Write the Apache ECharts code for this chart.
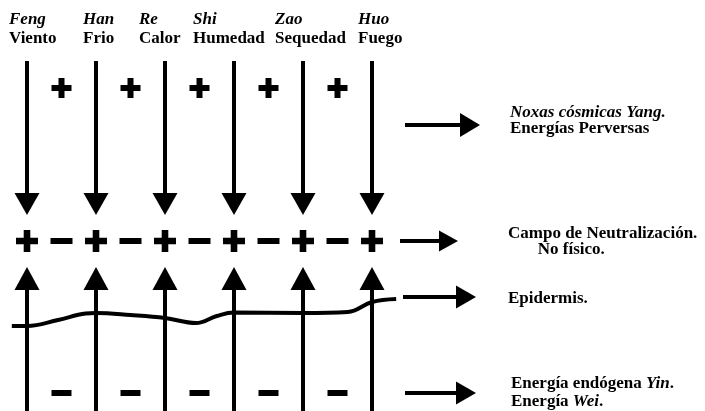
<!DOCTYPE html>
<html><head><meta charset="utf-8">
<script src="https://cdn.jsdelivr.net/npm/echarts@6/dist/echarts.min.js"></script>
<style>html,body{margin:0;padding:0;background:#fff}#c{width:705px;height:411px}</style>
</head><body><div id="c"></div>
<script>
// ---- data ----
const pinyin = ['Feng', 'Han', 'Re', 'Shi', 'Zao', 'Huo'];
const spanish = ['Viento', 'Frio', 'Calor', 'Humedad', 'Sequedad', 'Fuego'];
const topSigns = ['+', '+', '+', '+', '+'];                 // between columns, above
const fieldSigns = ['+', '−', '+', '−', '+', '−', '+', '−', '+', '−', '+']; // neutralization row
const bottomSigns = ['−', '−', '−', '−', '−'];              // between columns, below
// epidermis curve: [column position, level]
const epidermis = [[-0.22, 326], [0, 326], [0.45, 320], [0.85, 313.5], [1, 313], [1.5, 315], [2, 318], [2.45, 323], [2.75, 316], [3, 312.5], [4, 313], [4.65, 312], [5, 302], [5.35, 299]];
const notes = [
  ['{i|Noxas cósmicas Yang.}', '{b|Energías Perversas}'],
  ['{b|Campo de Neutralización.}', '{b|       No físico.}'],
  ['{b|Epidermis.}'],
  ['{b|Energía endógena }{i|Yin}{b|.}', '{b|Energía }{i|Wei}{b|.}']
];

// ---- layout ----
const X0 = 27, STEP = 69;
const toCol = px => (px - X0) / STEP;
const FONT = 'Liberation Serif';
const headerLeft = [9, 83, 139, 193, 275, 358];
const plusPath = 'path://M7,0H13V7H20V13H13V20H7V13H0V7H7Z';
const ink = {color: '#000', opacity: 1};

const cols = pinyin.map((_, i) => i);
const shafts = [];
cols.forEach(i => {
  shafts.push({coords: [[i, 61], [i, 196]]});
  shafts.push({coords: [[i, 282], [i, 411]]});
});
const sideArrows = [
  {y: 125, x1: 405, x2: 461, head: [24, 20]},
  {y: 241, x1: 400, x2: 440, head: [21, 19]},
  {y: 297, x1: 403, x2: 457, head: [23, 20]},
  {y: 393, x1: 405, x2: 457, head: [23, 20]}
];
sideArrows.forEach(a => shafts.push({coords: [[toCol(a.x1), a.y], [toCol(a.x2), a.y]]}));

const signData = (arr, start, step, y, ch) => arr.map((s, k) => ({s, v: [start + k * step, y]})).filter(d => d.s === ch).map(d => d.v);

const series = [
  {type: 'lines', coordinateSystem: 'cartesian2d', data: shafts, lineStyle: {color: '#000', width: 4, opacity: 1}, silent: true, z: 2},
  {type: 'scatter', data: cols.map(i => [i, 204]), symbol: 'triangle', symbolSize: [25, 22], symbolRotate: 180, itemStyle: ink, silent: true},
  {type: 'scatter', data: cols.map(i => [i, 278.5]), symbol: 'triangle', symbolSize: [25, 23], itemStyle: ink, silent: true},
  {type: 'scatter', data: sideArrows.map(a => [toCol(a.x2 + a.head[1] / 2 - 1), a.y]), symbol: 'triangle', symbolSize: (v, p) => sideArrows[p.dataIndex].head, symbolRotate: -90, itemStyle: ink, silent: true},
  {type: 'scatter', data: signData(topSigns, 0.5, 1, 88, '+'), symbol: plusPath, symbolSize: 20, itemStyle: ink, silent: true},
  {type: 'scatter', data: signData(fieldSigns, 0, 0.5, 241, '+'), symbol: plusPath, symbolSize: 22, itemStyle: ink, silent: true},
  {type: 'scatter', data: signData(fieldSigns, 0, 0.5, 241, '−'), symbol: 'rect', symbolSize: [22, 6], itemStyle: ink, silent: true},
  {type: 'scatter', data: signData(bottomSigns, 0.5, 1, 393, '−'), symbol: 'rect', symbolSize: [20, 6], itemStyle: ink, silent: true},
  {type: 'line', data: epidermis, smooth: 0.4, symbol: 'none', lineStyle: {color: '#000', width: 4, opacity: 1}, silent: true, z: 3}
];

const richFor = lh => ({
  b: {fontFamily: FONT, fontWeight: 'bold', fontSize: 17, fill: '#000', lineHeight: lh},
  i: {fontFamily: FONT, fontWeight: 'bold', fontStyle: 'italic', fontSize: 17, fill: '#000', lineHeight: lh}
});
const graphics = [];
pinyin.forEach((p, i) => {
  graphics.push({type: 'text', left: headerLeft[i], top: 11, style: {text: p, font: 'italic bold 17px "' + FONT + '"', fill: '#000'}});
  graphics.push({type: 'text', left: headerLeft[i], top: 30, style: {text: spanish[i], font: 'bold 17px "' + FONT + '"', fill: '#000'}});
});
const noteTop = [104, 225, 290, 375];
const noteLeft = [510, 508, 508, 511];
const noteLH = [16, 16, 16, 18];
notes.forEach((n, k) => {
  graphics.push({type: 'text', left: noteLeft[k], top: noteTop[k], style: {text: n.join('\n'), rich: richFor(noteLH[k]), fill: '#000'}});
});

const chart = echarts.init(document.getElementById('c'), null, {renderer: 'canvas'});
chart.setOption({
  animation: false,
  backgroundColor: '#fff',
  grid: {left: 0, right: 0, top: 0, bottom: 0, containLabel: false},
  xAxis: {type: 'value', min: -X0 / STEP, max: (705 - X0) / STEP, show: false},
  yAxis: {type: 'value', min: 0, max: 411, inverse: true, show: false},
  series: series,
  graphic: graphics
});
</script></body></html>
